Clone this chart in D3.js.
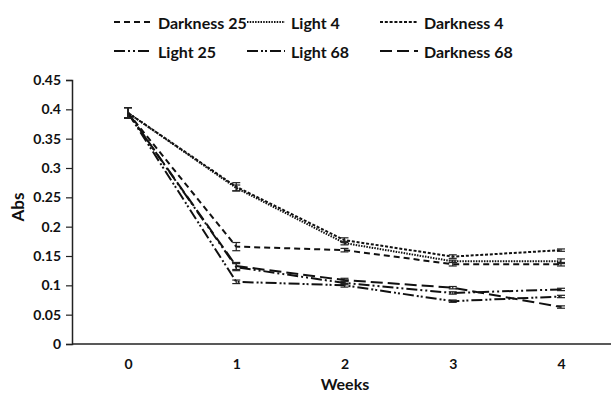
<html>
<head>
<script src="https://d3js.org/d3.v7.min.js"></script>
<style>
  body { margin: 0; background: #fff; }
  text { font-family: Lato, "Open Sans", sans-serif; font-weight: bold; fill: #111; }
</style>
</head>
<body>
<script>
// data
var weeks = ["0", "1", "2", "3", "4"];
var yTicks = [0, 0.05, 0.1, 0.15, 0.2, 0.25, 0.3, 0.35, 0.4, 0.45];
var yTickLabels = ["0", "0.05", "0.1", "0.15", "0.2", "0.25", "0.3", "0.35", "0.4", "0.45"];

var darkness25 = [0.394, 0.166, 0.160, 0.136, 0.136];
var light4     = [0.394, 0.266, 0.172, 0.141, 0.141];
var darkness4  = [0.394, 0.268, 0.177, 0.149, 0.160];
var light25    = [0.394, 0.131, 0.104, 0.087, 0.093];
var light68    = [0.394, 0.106, 0.100, 0.073, 0.081];
var darkness68 = [0.394, 0.133, 0.109, 0.096, 0.063];

var errD25 = [0.009, 0.007, 0.003, 0.003, 0.003];
var errL4  = [0.009, 0.005, 0.003, 0.002, 0.004];
var errD4  = [0.009, 0.007, 0.004, 0.003, 0.002];
var errL25 = [0.009, 0.006, 0.003, 0.002, 0.002];
var errL68 = [0.009, 0.003, 0.003, 0.002, 0.002];
var errD68 = [0.009, 0.006, 0.003, 0.002, 0.002];

var seriesNames = ["Darkness 25", "Light 4", "Darkness 4", "Light 25", "Light 68", "Darkness 68"];

var series = [
  {name: seriesNames[0], values: darkness25, err: errD25, dash: "6,4"},
  {name: seriesNames[1], values: light4,     err: errL4,  dash: "1.5,1.2"},
  {name: seriesNames[2], values: darkness4,  err: errD4,  dash: "3,1.8"},
  {name: seriesNames[3], values: light25,    err: errL25, dash: "11,3,2,3,2,3"},
  {name: seriesNames[4], values: light68,    err: errL68, dash: "11,3,2,2,2,3"},
  {name: seriesNames[5], values: darkness68, err: errD68, dash: "12,5"}
];

var width = 611, height = 394;
var svg = d3.select("body").append("svg")
    .attr("width", width)
    .attr("height", height);

var x = d3.scalePoint()
    .domain(weeks)
    .range([128, 561]);

var y = d3.scaleLinear()
    .domain([0, 0.45])
    .range([344, 80]);

// y axis
var yAxis = svg.append("g")
    .attr("transform", "translate(72,0)")
    .call(d3.axisLeft(y).tickValues(yTicks).tickSize(6).tickPadding(5)
        .tickFormat(function(d, i) { return yTickLabels[i]; }));
yAxis.select(".domain").attr("stroke", "#222").attr("stroke-width", 1.5);
yAxis.selectAll(".tick line").attr("stroke", "#222").attr("stroke-width", 1.2);
yAxis.selectAll("text").style("font-size", "14px").attr("fill", "#111");

// x axis
var xAxis = svg.append("g")
    .attr("transform", "translate(0,344)")
    .call(d3.axisBottom(x).tickSize(0).tickPadding(15));
xAxis.select(".domain").attr("d", "M72,0H613").attr("stroke", "#222").attr("stroke-width", 1.5);
xAxis.selectAll("text").style("font-size", "14px").attr("fill", "#111");

// axis titles
svg.append("text")
    .attr("x", 345)
    .attr("y", 390)
    .attr("text-anchor", "middle")
    .style("font-size", "16px")
    .text("Weeks");

svg.append("text")
    .attr("transform", "translate(24,207) rotate(-90)")
    .attr("text-anchor", "middle")
    .style("font-size", "17px")
    .text("Abs");

// lines
var line = d3.line()
    .x(function(d, i) { return x(weeks[i]); })
    .y(function(d) { return y(d); });

series.forEach(function(s) {
  svg.append("path")
    .datum(s.values)
    .attr("d", line)
    .attr("fill", "none")
    .attr("stroke", "#111")
    .attr("stroke-width", 2)
    .attr("stroke-dasharray", s.dash);

  // error bars
  var g = svg.append("g").attr("stroke", "#222").attr("stroke-width", 1.2);
  s.values.forEach(function(v, i) {
    var cx = x(weeks[i]);
    var e = s.err[i];
    g.append("line").attr("x1", cx).attr("x2", cx).attr("y1", y(v - e)).attr("y2", y(v + e));
    g.append("line").attr("x1", cx - 4).attr("x2", cx + 4).attr("y1", y(v - e)).attr("y2", y(v - e));
    g.append("line").attr("x1", cx - 4).attr("x2", cx + 4).attr("y1", y(v + e)).attr("y2", y(v + e));
  });
});

// legend, 3 columns x 2 rows
var legCols = [114, 247, 380];
var legRows = [22, 51];
series.forEach(function(s, i) {
  var lx = legCols[i % 3], ly = legRows[Math.floor(i / 3)];
  svg.append("line")
    .attr("x1", lx).attr("x2", lx + 38)
    .attr("y1", ly).attr("y2", ly)
    .attr("stroke", "#111")
    .attr("stroke-width", 2)
    .attr("stroke-dasharray", s.dash);
  svg.append("text")
    .attr("x", lx + 44)
    .attr("y", ly)
    .attr("dominant-baseline", "central")
    .style("font-size", "16px")
    .text(s.name);
});
</script>
</body>
</html>
